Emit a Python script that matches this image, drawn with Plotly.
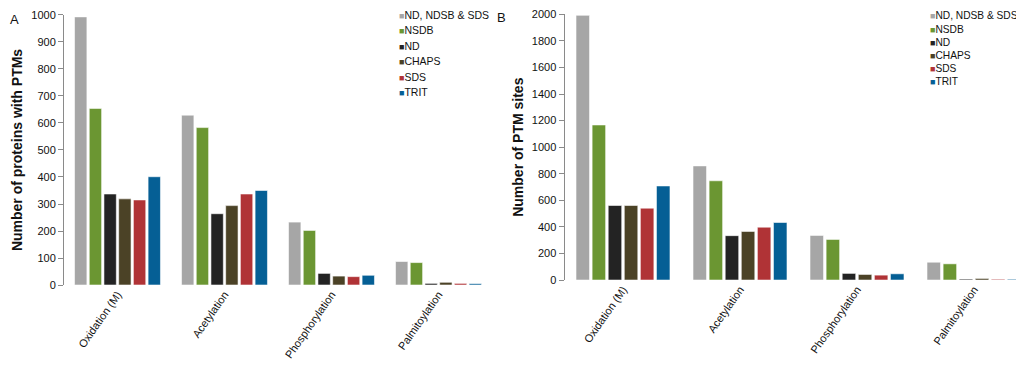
import plotly.graph_objects as go

categories = ["Oxidation (M)", "Acetylation", "Phosphorylation", "Palmitoylation"]
series_names = ["ND, NDSB & SDS", "NSDB", "ND", "CHAPS", "SDS", "TRIT"]
series_colors = ["#A6A6A6", "#6B9632", "#232323", "#4B4226", "#B03336", "#055F95"]

# Panel A: number of proteins with PTMs
proteins_nd_ndsb_sds = [993, 629, 233, 87]
proteins_nsdb = [654, 583, 202, 83]
proteins_nd = [337, 264, 43, 6]
proteins_chaps = [319, 294, 33, 10]
proteins_sds = [315, 337, 31, 6]
proteins_trit = [401, 350, 36, 5]

# Panel B: number of PTM sites
sites_nd_ndsb_sds = [1992, 859, 336, 134]
sites_nsdb = [1167, 747, 306, 122]
sites_nd = [561, 334, 50, 7]
sites_chaps = [561, 366, 42, 12]
sites_sds = [541, 398, 37, 6]
sites_trit = [708, 433, 47, 6]

panel_a = [proteins_nd_ndsb_sds, proteins_nsdb, proteins_nd, proteins_chaps, proteins_sds, proteins_trit]
panel_b = [sites_nd_ndsb_sds, sites_nsdb, sites_nd, sites_chaps, sites_sds, sites_trit]

OFF = 8  # page body margin offset
W, H = 1024 - OFF, 368 - OFF
TOP, BOT = 12, 285  # plot area rows in page pixels


def px_x(x):
    return (x - OFF) / W


def px_y(y):
    return (BOT - y) / (BOT - TOP)


FONT = "Liberation Sans, Arial, sans-serif"

fig = go.Figure()
for name, color, vals in zip(series_names, series_colors, panel_a):
    fig.add_trace(go.Bar(x=categories, y=vals, name=name, marker_color=color,
                         marker_line_color="rgba(255,255,255,0.7)", marker_line_width=0.8,
                         xaxis="x", yaxis="y", showlegend=False))
for name, color, vals in zip(series_names, series_colors, panel_b):
    fig.add_trace(go.Bar(x=categories, y=vals, name=name, marker_color=color,
                         marker_line_color="rgba(255,255,255,0.7)", marker_line_width=0.8,
                         xaxis="x2", yaxis="y2", showlegend=False))

axis_common = dict(showgrid=False, zeroline=False, showline=True, linecolor="#8A8A8A",
                   linewidth=1, ticks="outside", ticklen=5, tickcolor="#8A8A8A",
                   ticklabeloverflow="allow",
                   tickfont=dict(family=FONT, size=11, color="#111"))
xaxis_common = dict(showgrid=False, zeroline=False, showline=False, ticks="",
                    tickangle=-55, tickfont=dict(family=FONT, size=11, color="#111"),
                    type="category")

fig.update_layout(
    width=W, height=H,
    margin=dict(l=0, r=0, t=TOP - OFF, b=H - (BOT - OFF)),
    paper_bgcolor="white", plot_bgcolor="white",
    barmode="group", bargap=0.175, bargroupgap=0.16,
    xaxis=dict(domain=[px_x(64), px_x(492)], range=[-0.5, 3.5], anchor="y", **xaxis_common),
    yaxis=dict(domain=[px_y(285), px_y(13)], range=[0, 1000], dtick=100, anchor="x",
               title=dict(text="Number of proteins with PTMs", standoff=5,
                          font=dict(family=FONT, size=14, color="#111", weight="bold")),
               **axis_common),
    xaxis2=dict(domain=[px_x(564.5), 1.0], range=[-0.5, (1024 - 564.5) / 117 - 0.5],
                anchor="y2", **xaxis_common),
    yaxis2=dict(domain=[px_y(280), px_y(12.3)], range=[0, 2000], dtick=200, anchor="x2",
                title=dict(text="Number of PTM sites", standoff=4,
                           font=dict(family=FONT, size=14, color="#111", weight="bold")),
                **axis_common),
    showlegend=False,
)

annotations = []
# Panel labels
annotations.append(dict(text="A", x=px_x(8), y=px_y(18), xref="paper", yref="paper",
                        xanchor="left", yanchor="middle", showarrow=False,
                        font=dict(family=FONT, size=13, color="#111")))
annotations.append(dict(text="B", x=px_x(495), y=px_y(16), xref="paper", yref="paper",
                        xanchor="left", yanchor="middle", showarrow=False,
                        font=dict(family=FONT, size=13, color="#111")))

# Legends (one per panel)
for (lx, ly0, dy, fs) in [(397, 13, 15.5, 10.5), (928, 14, 13.2, 10.2)]:
    for i, (name, color) in enumerate(zip(series_names, series_colors)):
        annotations.append(dict(
            text=f"<span style='color:{color};font-size:9px'>■</span>{name.replace('&', '&amp;')}",
            x=px_x(lx), y=px_y(ly0 + i * dy), xref="paper", yref="paper",
            xanchor="left", yanchor="middle", showarrow=False,
            font=dict(family=FONT, size=fs, color="#111")))

fig.update_layout(annotations=annotations)

fig.write_html("out.html")
